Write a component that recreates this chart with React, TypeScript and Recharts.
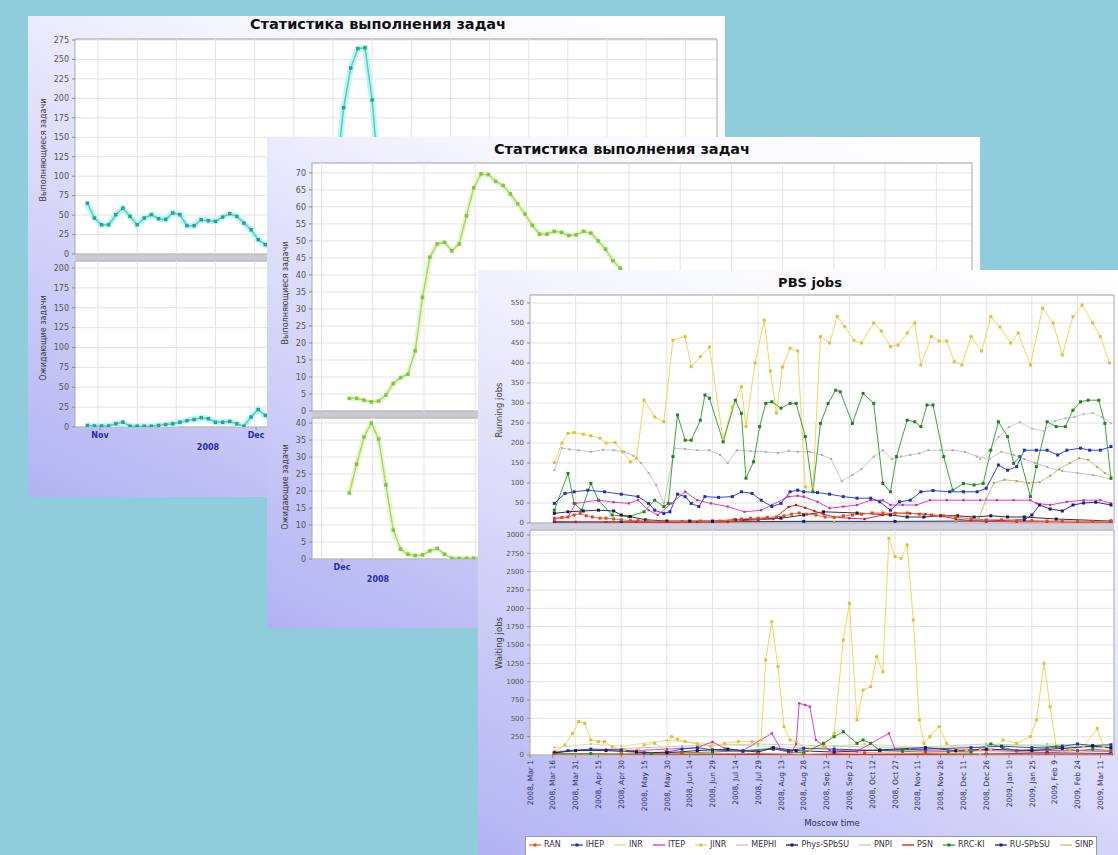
import React from 'react';
import { LineChart, Line, XAxis, YAxis, CartesianGrid, ReferenceLine, ReferenceArea } from 'recharts';

const FONT = '"DejaVu Sans", "Liberation Sans", Arial, sans-serif';

/* ================= Panel 1 (back) ================= */
const p1Running = [65.4, 46.2, 37.6, 37.6, 50.5, 59, 48.3, 37.6, 46.2, 50.5, 45.3, 44.5, 52.6, 50.5, 36.4, 36.4, 44, 42.8, 41.9, 47.5, 51.7, 48.3, 39.8, 31.2, 18.4, 12, 10, 8, 12, 15, 18, 25, 40, 60, 85, 104, 188, 239, 264, 265, 198, 90, 50, 45, 40, 48, 52, 45, 40, 50, 55, 48, 42, 50, 45, 40, 48, 52, 46, 42];
const p1Waiting = [2, 1.3, 1.3, 1.3, 4, 6, 1, 1, 1, 1, 2, 3, 4, 6, 8, 9.5, 11.7, 10.4, 6, 6, 7, 4, 1, 12.5, 22, 14.6, 8, 5, 3, 2, 2, 3, 5, 4, 3, 2, 2, 3, 4, 3, 2, 2, 1, 1, 2, 3, 2, 1, 1, 2];
const p1RunTicks = [0, 25, 50, 75, 100, 125, 150, 175, 200, 225, 250, 275];
const p1WaitTicks = [0, 25, 50, 75, 100, 125, 150, 175, 200];
const p1MonthPos = [1.78, 23.7];
const p1MonthLabels = ['Nov', 'Dec'];
const p1GridPos = [1.5, 7, 12.5, 18, 23.5, 29, 34.5, 40, 45.5, 51, 56.5, 62, 67.5, 73, 78.5, 84];

/* ================= Panel 2 (middle) ================= */
const p2Running = [3.7, 3.7, 3.2, 2.7, 2.9, 4.7, 8.1, 9.8, 10.8, 17.7, 33.4, 45.2, 49.1, 49.6, 47.1, 49.1, 57.4, 65.6, 69.7, 69.5, 67.5, 66.3, 63.8, 60.9, 57.9, 54.6, 52, 52, 52.8, 52.5, 51.6, 51.8, 52.8, 52.3, 50, 47.6, 44.2, 42, 40, 38, 36, 35, 33, 31, 30, 29, 27, 26, 24, 22, 21, 19, 18, 16, 15, 14, 12, 11, 10, 10, 9, 8, 8, 7, 7, 6, 6, 5, 5, 5, 4, 4, 4, 3, 3, 3, 3, 2, 2, 2, 2, 2];
const p2Waiting = [19.4, 27.9, 35.9, 40, 35.3, 21.8, 8.5, 2.9, 1.4, 1, 1.2, 2.4, 3.1, 1.4, 0.2, 0.2, 0.2, 0.2, 0.5, 1, 0.5, 0.2, 0.2, 0.2, 0.5, 0.2, 0.2, 0.2];
const p2RunTicks = [0, 5, 10, 15, 20, 25, 30, 35, 40, 45, 50, 55, 60, 65, 70];
const p2WaitTicks = [0, 5, 10, 15, 20, 25, 30, 35, 40];
const p2MonthPos = [-1];
const p2MonthLabels = ['Dec'];
const p2GridPos = [-3.8, 3.2, 10.2, 17.2, 24.2, 31.2, 38.2, 45.2, 52.2, 59.2, 66.2, 73.2, 80.2];

/* ================= Panel 3 (front, PBS jobs) ================= */
const pbsNames = ['RAN', 'IHEP', 'INR', 'ITEP', 'JINR', 'MEPHI', 'Phys-SPbSU', 'PNPI', 'PSN', 'RRC-KI', 'RU-SPbSU', 'SINP'];
const pbsColors = ['#FF6A3A', '#3346DE', '#D6E39C', '#E040C8', '#F5D65A', '#C8C8C8', '#2C2C60', '#D2CAE0', '#E02A2A', '#3AA83A', '#2A2AB4', '#C9C27A'];
const pbsDotColors = ['#E04A1A', '#1F2FB0', '#C2D07E', '#C42AAE', '#E2BE3A', '#B2B2B2', '#1A1A44', '#BDB4CE', '#B81818', '#227F22', '#1A1A8A', '#B0A85E'];
const pbsMarker = [true, true, false, false, true, false, true, false, false, true, true, false];
const pbsDrawOrder = [5, 7, 2, 11, 4, 9, 3, 1, 10, 6, 8, 0];

const ranRun = [[16, 12], [21, 14], [25, 15], [29, 20], [33, 24], [37, 18], [41, 15], [46, 12], [50, 12], [55, 10], [60, 8], [66, 6], [71, 6], [77, 5], [88, 4], [100, 4], [112, 5], [125, 5], [134, 8], [139, 10], [145, 12], [150, 12], [156, 14], [162, 15], [167, 18], [172, 22], [177, 25], [182, 22], [188, 20], [194, 15], [200, 14], [206, 18], [212, 20], [218, 22], [225, 25], [232, 25], [240, 24], [248, 25], [256, 22], [264, 20], [272, 18], [280, 15], [290, 10], [300, 8], [310, 8], [320, 6], [330, 6], [340, 5], [350, 5], [360, 5], [370, 4], [382, 5]];
const ihepRun = [[16, 49], [23, 74], [29, 78], [38, 82], [49, 78], [60, 72], [71, 66], [78, 49], [82, 32], [88, 24], [92, 28], [97, 72], [102, 66], [106, 49], [111, 41], [115, 66], [124, 64], [133, 66], [139, 78], [146, 74], [152, 57], [159, 41], [165, 49], [171, 78], [176, 82], [180, 78], [189, 76], [197, 72], [206, 66], [215, 62], [224, 62], [230, 53], [237, 32], [243, 53], [250, 57], [257, 78], [265, 81], [276, 78], [285, 78], [294, 78], [300, 87], [308, 145], [314, 132], [320, 141], [325, 182], [333, 182], [340, 182], [347, 170], [353, 182], [362, 187], [368, 182], [375, 182], [382, 191]];
const inrRun = [[16, 3], [60, 2], [120, 3], [180, 5], [240, 4], [300, 5], [382, 4]];
const itepRun = [[16, 10], [25, 15], [30, 49], [45, 57], [55, 52], [65, 49], [71, 57], [78, 32], [84, 20], [93, 49], [102, 78], [110, 57], [119, 49], [130, 41], [141, 28], [152, 32], [159, 45], [170, 66], [176, 68], [180, 66], [189, 53], [197, 37], [206, 41], [215, 45], [224, 57], [232, 57], [237, 45], [245, 45], [254, 45], [263, 57], [274, 57], [285, 57], [296, 57], [307, 57], [318, 57], [329, 57], [333, 49], [342, 45], [353, 53], [364, 57], [375, 57], [382, 49]];
const jinrRun = [[16, 151], [21, 200], [25, 224], [29, 226], [35, 222], [40, 218], [46, 212], [50, 200], [56, 201], [61, 178], [66, 153], [70, 162], [75, 307], [82, 265], [88, 253], [94, 457], [102, 466], [106, 391], [112, 416], [118, 440], [127, 208], [133, 290], [139, 341], [142, 241], [148, 400], [154, 507], [158, 380], [162, 275], [166, 390], [171, 437], [176, 430], [181, 90], [186, 91], [191, 466], [197, 450], [202, 516], [207, 491], [213, 457], [218, 450], [226, 500], [231, 480], [237, 441], [242, 445], [248, 475], [253, 500], [257, 395], [264, 466], [269, 455], [274, 455], [279, 403], [284, 395], [290, 466], [297, 430], [303, 516], [309, 490], [316, 450], [321, 475], [329, 395], [337, 537], [344, 500], [350, 420], [357, 516], [363, 545], [370, 500], [375, 466], [381, 400]];
const mephiRun = [[16, 132], [21, 187], [26, 184], [32, 182], [40, 178], [48, 183], [55, 182], [62, 178], [68, 168], [73, 150], [78, 125], [83, 95], [88, 49], [95, 187], [102, 185], [110, 182], [118, 182], [125, 170], [130, 150], [136, 182], [145, 180], [155, 178], [163, 175], [170, 180], [176, 178], [184, 178], [192, 170], [198, 160], [205, 105], [212, 120], [218, 135], [226, 166], [232, 182], [238, 160], [244, 166], [250, 170], [256, 174], [262, 182], [270, 182], [278, 182], [286, 178], [294, 166], [302, 160], [310, 178], [318, 170], [325, 160], [332, 150], [340, 140], [350, 130], [360, 125], [370, 120], [382, 110]];
const physRun = [[16, 24], [25, 28], [35, 30], [45, 32], [55, 30], [60, 20], [66, 16], [76, 8], [90, 5], [105, 5], [120, 5], [135, 8], [150, 10], [165, 12], [180, 20], [193, 28], [215, 25], [237, 20], [248, 15], [259, 15], [270, 18], [281, 18], [292, 15], [303, 18], [314, 15], [325, 15], [346, 10], [382, 5]];
const pnpiRun = [[296, 160], [302, 180], [308, 215], [315, 240], [322, 252], [330, 236], [338, 230], [345, 255], [352, 262], [358, 265], [364, 272], [370, 275], [376, 265], [382, 250]];
const psnRun = [[16, 4], [30, 3], [50, 2], [70, 2], [90, 1], [110, 2], [130, 3], [140, 6], [150, 8], [160, 10], [170, 40], [175, 45], [181, 38], [187, 30], [193, 22], [200, 15], [210, 12], [220, 10], [232, 20], [240, 25], [250, 24], [260, 22], [270, 18], [280, 10], [290, 6], [300, 4], [320, 3], [340, 3], [360, 2], [382, 2]];
const rrcRun = [[16, 32], [25, 124], [29, 49], [34, 32], [40, 99], [45, 57], [54, 20], [65, 16], [75, 28], [82, 57], [88, 41], [91, 49], [94, 166], [97, 270], [102, 207], [106, 207], [112, 257], [115, 320], [118, 312], [127, 203], [135, 307], [139, 274], [142, 112], [147, 153], [151, 241], [155, 299], [159, 303], [165, 287], [171, 299], [175, 299], [181, 216], [186, 78], [191, 249], [196, 299], [201, 332], [204, 328], [212, 249], [219, 324], [226, 299], [232, 99], [237, 78], [241, 166], [248, 257], [253, 253], [257, 241], [261, 295], [265, 295], [272, 166], [278, 82], [285, 99], [292, 95], [298, 99], [303, 182], [308, 253], [314, 216], [318, 149], [322, 166], [329, 66], [333, 141], [340, 253], [346, 241], [352, 241], [357, 282], [362, 303], [367, 307], [374, 307], [378, 249], [382, 112]];
const ruRun = [[16, 2], [60, 3], [120, 3], [180, 4], [240, 4], [300, 5], [325, 8], [330, 20], [335, 45], [342, 35], [350, 30], [357, 45], [364, 50], [372, 52], [382, 45]];
const sinpRun = [[16, 0], [100, 1], [200, 2], [280, 3], [295, 10], [300, 60], [305, 100], [312, 108], [320, 105], [328, 100], [335, 102], [342, 118], [348, 135], [355, 150], [361, 162], [367, 158], [373, 140], [378, 125], [382, 116]];

const ranWait = [[16, 5], [60, 10], [100, 15], [150, 20], [180, 10], [220, 30], [260, 20], [300, 10], [340, 15], [382, 10]];
const ihepWait = [[16, 20], [25, 60], [40, 80], [60, 70], [75, 30], [90, 40], [100, 80], [110, 100], [120, 70], [140, 50], [160, 80], [170, 60], [180, 90], [200, 80], [230, 60], [260, 80], [290, 100], [310, 120], [330, 100], [350, 120], [360, 150], [370, 130], [382, 140]];
const inrWait = [[16, 100], [40, 150], [60, 120], [90, 200], [120, 150], [150, 120], [180, 100], [220, 150], [260, 100], [300, 120], [340, 150], [382, 120]];
const itepWait = [[16, 40], [30, 60], [50, 70], [70, 60], [90, 80], [110, 100], [120, 180], [128, 90], [140, 60], [159, 295], [165, 80], [172, 40], [175, 150], [177, 705], [181, 682], [184, 659], [188, 205], [197, 68], [215, 50], [236, 295], [240, 80], [260, 60], [280, 50], [300, 60], [320, 50], [340, 60], [360, 60], [382, 50]];
const jinrWait = [[16, 45], [23, 136], [28, 295], [32, 455], [36, 432], [40, 205], [45, 182], [49, 182], [54, 114], [62, 68], [71, 68], [75, 136], [82, 159], [89, 68], [93, 250], [97, 214], [102, 182], [110, 150], [119, 114], [128, 159], [137, 182], [146, 182], [152, 205], [155, 1296], [159, 1818], [163, 1205], [167, 386], [171, 205], [175, 182], [184, 68], [193, 114], [200, 295], [206, 1568], [210, 2068], [215, 477], [219, 886], [224, 932], [228, 1341], [232, 1136], [236, 2955], [240, 2705], [244, 2682], [248, 2864], [252, 1841], [256, 477], [259, 159], [263, 250], [269, 386], [274, 159], [281, 68], [287, 68], [296, 68], [303, 68], [311, 205], [320, 159], [329, 250], [333, 477], [338, 1250], [342, 659], [346, 114], [355, 68], [364, 114], [373, 364], [377, 114], [382, 68]];
const mephiWait = [[16, 50], [50, 80], [100, 120], [150, 150], [200, 120], [250, 100], [300, 150], [350, 120], [382, 100]];
const physWait = [[16, 30], [30, 60], [50, 60], [70, 40], [90, 30], [110, 60], [130, 80], [150, 40], [160, 100], [175, 60], [200, 40], [230, 70], [260, 100], [280, 60], [300, 80], [330, 60], [350, 90], [370, 120], [382, 100]];
const pnpiWait = [[296, 10], [340, 20], [382, 15]];
const psnWait = [[16, 2], [100, 3], [200, 5], [300, 3], [382, 2]];
const rrcWait = [[16, 20], [40, 20], [60, 15], [80, 20], [100, 30], [120, 40], [140, 60], [159, 90], [170, 40], [180, 30], [193, 159], [200, 250], [206, 318], [215, 159], [219, 205], [224, 159], [230, 60], [245, 50], [260, 40], [275, 45], [290, 40], [303, 150], [311, 100], [320, 60], [340, 90], [346, 110], [360, 60], [370, 80], [382, 60]];
const ruWait = [[16, 0], [150, 5], [300, 10], [340, 30], [382, 20]];
const sinpWait = [[16, 0], [200, 5], [300, 20], [340, 40], [360, 60], [382, 40]];

const pbsRunning = [ranRun, ihepRun, inrRun, itepRun, jinrRun, mephiRun, physRun, pnpiRun, psnRun, rrcRun, ruRun, sinpRun];
const pbsWaiting = [ranWait, ihepWait, inrWait, itepWait, jinrWait, mephiWait, physWait, pnpiWait, psnWait, rrcWait, ruWait, sinpWait];

const pbsRunTicks = [0, 50, 100, 150, 200, 250, 300, 350, 400, 450, 500, 550];
const pbsWaitTicks = [0, 250, 500, 750, 1000, 1250, 1500, 1750, 2000, 2250, 2500, 2750, 3000];
const pbsTickDays = [0, 15, 30, 45, 60, 75, 90, 105, 120, 135, 150, 165, 180, 195, 210, 225, 240, 255, 270, 285, 300, 315, 330, 345, 360, 375];
const pbsTickLabels = ['2008, Mar 1', '2008, Mar 16', '2008, Mar 31', '2008, Apr 15', '2008, Apr 30', '2008, May 15', '2008, May 30', '2008, Jun 14', '2008, Jun 29', '2008, Jul 14', '2008, Jul 29', '2008, Aug 13', '2008, Aug 28', '2008, Sep 12', '2008, Sep 27', '2008, Oct 12', '2008, Oct 27', '2008, Nov 11', '2008, Nov 26', '2008, Dec 11', '2008, Dec 26', '2009, Jan 10', '2009, Jan 25', '2009, Feb 9', '2009, Feb 24', '2009, Mar 11'];
const pbsGridDays = [30, 60, 90, 120, 150, 180, 210, 240, 270, 300, 330, 360];

/* ================= helpers ================= */
function mergeRows(list: number[][][]) {
  const map = new Map<number, any>();
  list.forEach((pts, si) => {
    pts.forEach(([x, y]) => {
      const row = map.get(x) || { x };
      row['s' + si] = y;
      map.set(x, row);
    });
  });
  return Array.from(map.values()).sort((a, b) => a.x - b.x);
}

const squareDot = (fill: string, size: number) => (props: any) => {
  const { cx, cy, index, value } = props;
  if (cx == null || cy == null || value == null || Number.isNaN(cy)) return <g key={'d' + index} />;
  return <rect key={'d' + index} x={cx - size / 2} y={cy - size / 2} width={size} height={size} fill={fill} />;
};

type LineDef = { key: string; color: string; width: number; dotColor?: string; dotSize?: number; halo?: string; haloWidth?: number };

type PlotProps = {
  ox: number; oy: number;
  l: number; t: number; r: number; b: number;
  yw: number; xh: number;
  xDomain: [number, number]; yDomain: [number, number]; yTicks: number[];
  rows: any[]; lines: LineDef[]; vGrid: number[];
  xTicks?: number[]; xTick?: any; yFont: number;
};

function Plot(p: PlotProps) {
  const mt = 7;
  const mb = 7;
  const mr = 4;
  const width = p.r - p.l + p.yw + mr;
  const height = p.b - p.t + mt + p.xh + mb;
  return (
    <div style={{ position: 'absolute', left: p.l - p.yw - p.ox, top: p.t - mt - p.oy }}>
      <LineChart width={width} height={height} data={p.rows} margin={{ top: mt, right: mr, bottom: mb, left: 0 }}>
        <CartesianGrid vertical={false} stroke="#e3e3e3" fill="#ffffff" fillOpacity={1} />
        {p.vGrid.map((v) => (
          <ReferenceLine key={'g' + v} x={v} stroke="#e3e3e3" />
        ))}
        <XAxis
          type="number"
          dataKey="x"
          domain={p.xDomain}
          allowDataOverflow
          hide={p.xh === 0}
          height={p.xh || undefined}
          ticks={p.xTicks}
          tick={p.xTick}
          interval={0}
          tickSize={3}
          tickMargin={2}
          tickLine={{ stroke: '#8a8a8a' }}
          axisLine={false}
        />
        <YAxis
          type="number"
          domain={p.yDomain}
          allowDataOverflow
          ticks={p.yTicks}
          interval={0}
          width={p.yw}
          tickSize={3}
          tickMargin={3}
          tickLine={{ stroke: '#8a8a8a' }}
          axisLine={false}
          tick={{ fontSize: p.yFont, fill: '#555', fontFamily: FONT }}
        />
        <ReferenceArea x1={p.xDomain[0]} x2={p.xDomain[1]} y1={p.yDomain[0]} y2={p.yDomain[1]} fill="none" stroke="#a9a9a9" strokeWidth={1} />
        {p.lines.map((ln) =>
          ln.halo ? (
            <Line
              key={'h' + ln.key}
              dataKey={ln.key}
              stroke={ln.halo}
              strokeWidth={ln.haloWidth || 5}
              dot={false}
              activeDot={false}
              connectNulls
              isAnimationActive={false}
              type="linear"
            />
          ) : null
        )}
        {p.lines.map((ln) => (
          <Line
            key={ln.key}
            dataKey={ln.key}
            stroke={ln.color}
            strokeWidth={ln.width}
            dot={ln.dotColor ? squareDot(ln.dotColor, ln.dotSize || 3) : false}
            activeDot={false}
            connectNulls
            isAnimationActive={false}
            type="linear"
          />
        ))}
      </LineChart>
    </div>
  );
}

const VLabel = ({ x, y, text, size }: { x: number; y: number; text: string; size: number }) => (
  <div
    style={{
      position: 'absolute',
      left: x,
      top: y,
      transform: 'translate(-50%, -50%) rotate(-90deg)',
      whiteSpace: 'nowrap',
      fontSize: size,
      color: '#3a3a3a',
      fontFamily: FONT,
    }}
  >
    {text}
  </div>
);

const makeMonthTick = (pos: number[], labels: string[]) => (props: any) => {
  const { x, y, payload } = props;
  const i = pos.indexOf(payload.value);
  return (
    <text x={x} y={y} dy="0.71em" textAnchor="middle" fontSize={8} fontWeight="bold" fill="#2a2aa8" fontFamily={FONT}>
      {labels[i]}
    </text>
  );
};

const DateTick = (props: any) => {
  const { x, y, payload } = props;
  const i = pbsTickDays.indexOf(payload.value);
  return (
    <text x={x} y={y} transform={`rotate(-90, ${x}, ${y})`} textAnchor="end" dy="0.35em" fontSize={7.5} fill="#2c2c6a" fontFamily={FONT}>
      {pbsTickLabels[i]}
    </text>
  );
};

const panelBg = 'linear-gradient(206deg, #ffffff 0%, #f6f6ff 30%, #b2b2f3 100%)';
const titleStyle = { position: 'absolute' as const, transform: 'translate(-50%, -50%)', fontWeight: 'bold' as const, fontFamily: FONT, color: '#111', whiteSpace: 'nowrap' as const };

/* ================= Panels ================= */
function Panel1() {
  const ox = 28, oy = 16;
  const runRows = p1Running.map((v, i) => ({ x: i, run: v }));
  const waitRows = p1Waiting.map((v, i) => ({ x: i, wait: v }));
  const teal = { color: '#44D4CC', width: 1.5, dotColor: '#22A39B', dotSize: 3.5, halo: '#C6F3EF', haloWidth: 6 };
  return (
    <div style={{ position: 'absolute', left: ox, top: oy, width: 697, height: 481, background: panelBg, overflow: 'hidden' }}>
      <div style={{ ...titleStyle, left: 378 - ox, top: 24 - oy, fontSize: 14.5 }}>Статистика выполнения задач</div>
      <div style={{ position: 'absolute', left: 75 - ox, top: 254 - oy, width: 642, height: 7, background: '#c9c9d2' }} />
      <Plot ox={ox} oy={oy} l={75} t={39} r={717} b={254} yw={30} xh={0} xDomain={[-1.73, 88.44]} yDomain={[0, 276.3]} yTicks={p1RunTicks} rows={runRows} lines={[{ key: 'run', ...teal }]} vGrid={p1GridPos} yFont={8} />
      <Plot ox={ox} oy={oy} l={75} t={261} r={717} b={427} yw={30} xh={14} xDomain={[-1.73, 88.44]} yDomain={[0, 208.8]} yTicks={p1WaitTicks} rows={waitRows} lines={[{ key: 'wait', ...teal }]} vGrid={p1GridPos} xTicks={p1MonthPos} xTick={makeMonthTick(p1MonthPos, p1MonthLabels)} yFont={8} />
      <div style={{ position: 'absolute', left: 208 - ox, top: 447 - oy, transform: 'translate(-50%, -50%)', fontSize: 8, fontWeight: 'bold', color: '#2a2aa8', fontFamily: FONT }}>2008</div>
      <VLabel x={43 - ox} y={150 - oy} text="Выполняющиеся задачи" size={8} />
      <VLabel x={43 - ox} y={338 - oy} text="Ожидающие задачи" size={8} />
    </div>
  );
}

function Panel2() {
  const ox = 267, oy = 137;
  const runRows = p2Running.map((v, i) => ({ x: i, run: v }));
  const waitRows = p2Waiting.map((v, i) => ({ x: i, wait: v }));
  const green = { color: '#A4DC5C', width: 1.4, dotColor: '#84C244', dotSize: 3.5, halo: '#E6F7D0', haloWidth: 5 };
  return (
    <div style={{ position: 'absolute', left: ox, top: oy, width: 713, height: 491, background: panelBg, overflow: 'hidden' }}>
      <div style={{ ...titleStyle, left: 622 - ox, top: 149 - oy, fontSize: 14.5 }}>Статистика выполнения задач</div>
      <div style={{ position: 'absolute', left: 312 - ox, top: 411 - oy, width: 660, height: 7, background: '#c9c9d2' }} />
      <Plot ox={ox} oy={oy} l={312} t={163} r={972} b={411} yw={30} xh={0} xDomain={[-5.1, 85.07]} yDomain={[0, 72.9]} yTicks={p2RunTicks} rows={runRows} lines={[{ key: 'run', ...green }]} vGrid={p2GridPos} yFont={8} />
      <Plot ox={ox} oy={oy} l={312} t={418} r={972} b={559} yw={30} xh={14} xDomain={[-5.1, 85.07]} yDomain={[0, 41.5]} yTicks={p2WaitTicks} rows={waitRows} lines={[{ key: 'wait', ...green }]} vGrid={p2GridPos} xTicks={p2MonthPos} xTick={makeMonthTick(p2MonthPos, p2MonthLabels)} yFont={8} />
      <div style={{ position: 'absolute', left: 378 - ox, top: 579 - oy, transform: 'translate(-50%, -50%)', fontSize: 8, fontWeight: 'bold', color: '#2a2aa8', fontFamily: FONT }}>2008</div>
      <VLabel x={285 - ox} y={293 - oy} text="Выполняющиеся задачи" size={8} />
      <VLabel x={285 - ox} y={487 - oy} text="Ожидающие задачи" size={8} />
    </div>
  );
}

function Panel3() {
  const ox = 478, oy = 270;
  const runRows = mergeRows(pbsRunning);
  const waitRows = mergeRows(pbsWaiting);
  const lines: LineDef[] = pbsDrawOrder.map((si) => ({
    key: 's' + si,
    color: pbsColors[si],
    width: 1,
    dotColor: pbsDotColors[si],
    dotSize: pbsMarker[si] ? 3 : 2.2,
  }));
  return (
    <div style={{ position: 'absolute', left: ox, top: oy, width: 640, height: 585, background: panelBg, overflow: 'hidden' }}>
      <div style={{ ...titleStyle, left: 810 - ox, top: 282 - oy, fontSize: 13 }}>PBS jobs</div>
      <div style={{ position: 'absolute', left: 530 - ox, top: 523 - oy, width: 584, height: 7, background: '#cfd0e0' }} />
      <Plot ox={ox} oy={oy} l={530} t={295} r={1114} b={523} yw={30} xh={0} xDomain={[0, 384]} yDomain={[0, 570]} yTicks={pbsRunTicks} rows={runRows} lines={lines} vGrid={pbsGridDays} yFont={7} />
      <Plot ox={ox} oy={oy} l={530} t={530} r={1114} b={755} yw={30} xh={58} xDomain={[0, 384]} yDomain={[0, 3068]} yTicks={pbsWaitTicks} rows={waitRows} lines={lines} vGrid={pbsGridDays} xTicks={pbsTickDays} xTick={DateTick} yFont={7} />
      <VLabel x={499 - ox} y={410 - oy} text="Running jobs" size={8.5} />
      <VLabel x={499 - ox} y={643 - oy} text="Waiting jobs" size={8.5} />
      <div style={{ position: 'absolute', left: 832 - ox, top: 823 - oy, transform: 'translate(-50%, -50%)', fontSize: 8.5, color: '#2c2c6a', fontFamily: FONT, whiteSpace: 'nowrap' }}>Moscow time</div>
      <div
        style={{
          position: 'absolute',
          left: 525 - ox,
          top: 836 - oy,
          width: 572,
          height: 26,
          background: '#ffffff',
          border: '1px solid #9a9a9a',
          boxSizing: 'border-box',
          display: 'flex',
          alignItems: 'flex-start',
          paddingTop: 3,
          paddingLeft: 3,
          gap: 10,
          fontSize: 8,
          color: '#333',
          fontFamily: FONT,
        }}
      >
        {pbsNames.map((n, i) => (
          <div key={n} style={{ display: 'flex', alignItems: 'center', whiteSpace: 'nowrap' }}>
            <svg width={12} height={6} style={{ display: 'block' }}>
              <line x1={0} y1={3} x2={12} y2={3} stroke={pbsColors[i]} strokeWidth={1.4} />
              {pbsMarker[i] ? <rect x={4.5} y={1.5} width={3} height={3} fill={pbsDotColors[i]} /> : null}
            </svg>
            <span style={{ marginLeft: 3 }}>{n}</span>
          </div>
        ))}
      </div>
    </div>
  );
}

export default function App() {
  return (
    <div style={{ position: 'absolute', left: 0, top: 0, width: 1118, height: 855, background: '#8FCCDC', overflow: 'hidden', fontFamily: FONT }}>
      <Panel1 />
      <Panel2 />
      <Panel3 />
    </div>
  );
}
